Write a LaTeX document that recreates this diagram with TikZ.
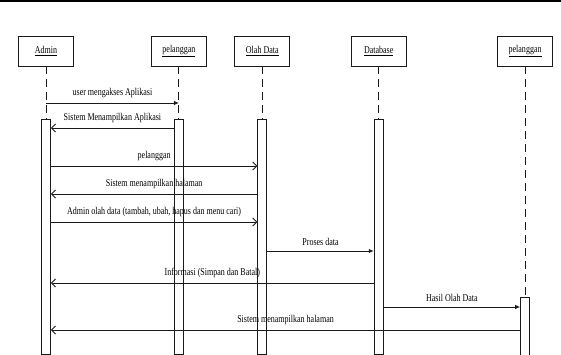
\documentclass[tikz,border=0pt]{standalone}
\usepackage{fontspec}
\setmainfont{Liberation Serif}
\newfontfamily\seqfont[FakeStretch=0.77]{Liberation Serif}
\usetikzlibrary{arrows.meta,positioning}
\definecolor{linegray}{HTML}{1A1A1A}
\tikzset{
  actor/.style={
    draw=linegray,
    fill=white,
    minimum width=55pt,
    minimum height=30pt,
    font=\seqfont\fontsize{10.4}{12}\selectfont,
    line width=0.9pt
  },
  activation/.style={
    draw=linegray,
    fill=white,
    minimum width=9pt,
    inner sep=0pt,
    line width=0.9pt
  },
  lifeline/.style={
    draw=linegray,
    dash pattern=on 8pt off 5pt,
    line width=0.9pt
  },
  call/.style={
    -{Latex[length=5pt,width=4.5pt]},
    draw=linegray,
    line width=0.9pt
  },
  reply/.style={
    -{Straight Barb[length=4pt,width=8pt]},
    draw=linegray,
    line width=0.9pt
  },
  msglabel/.style={
    midway,
    above=4pt,
    inner sep=1pt,
    font=\seqfont\fontsize{10.4}{12}\selectfont
  }
}
\begin{document}
\begin{tikzpicture}[x=1pt, y=-1pt]
  \useasboundingbox (0,0) rectangle (561,355);
  \draw[line width=2.5pt] (0,1.25) -- (561,1.25);

  \node[actor] (admin) at (46,51) {\underline{Admin}};
  \node[actor, right=77pt of admin] (pelA) {\underline{pelanggan}};
  \node[actor, right=27.5pt of pelA] (olah) {\underline{Olah Data}};
  \node[actor, right=60.5pt of olah] (db) {\underline{Database}};
  \node[actor, right=90.5pt of db] (pelB) {\underline{pelanggan}};

  \node[activation, below=53pt of admin, minimum height=235pt] (barA) {};
  \node[activation, below=53pt of pelA, minimum height=235pt] (barB) {};
  \node[activation, below=53pt of olah, minimum height=235pt] (barC) {};
  \node[activation, below=53pt of db, minimum height=235pt] (barD) {};
  \node[activation, below=231pt of pelB, minimum height=58pt] (barE) {};

  \draw[lifeline] (admin) -- (barA);
  \draw[lifeline] (pelA) -- (barB);
  \draw[lifeline] (olah) -- (barC);
  \draw[lifeline] (db) -- (barD);
  \draw[lifeline] (pelB) -- (barE);

  \coordinate (r1) at (0,103);
  \coordinate (r2) at (0,128);
  \coordinate (r3) at (0,166);
  \coordinate (r4) at (0,194);
  \coordinate (r5) at (0,222);
  \coordinate (r6) at (0,251);
  \coordinate (r7) at (0,283);
  \coordinate (r8) at (0,307);
  \coordinate (r9) at (0,330);

  \draw[call] (admin |- r1) -- node[msglabel] {user mengakses Aplikasi} (pelA |- r1);
  \draw[reply] (barB.west |- r2) -- node[msglabel] {Sistem Menampilkan Aplikasi} (barA.east |- r2);
  \draw[reply] (barA.east |- r3) -- node[msglabel] {pelanggan} (barC.west |- r3);
  \draw[reply] (barC.west |- r4) -- node[msglabel] {Sistem menampilkan halaman} (barA.east |- r4);
  \draw[reply] (barA.east |- r5) -- node[msglabel] {Admin olah data (tambah, ubah, hapus dan menu cari)} (barC.west |- r5);
  \draw[call] (barC.east |- r6) -- node[msglabel] {Proses data} (barD.west |- r6);
  \draw[reply] (barD.west |- r7) -- node[msglabel] {Informasi (Simpan dan Batal)} (barA.east |- r7);
  \draw[call] (barD.east |- r8) -- node[msglabel] {Hasil Olah Data} (barE.west |- r8);
  \draw[reply] (barE.west |- r9) -- node[msglabel] {Sistem menampilkan halaman} (barA.east |- r9);
\end{tikzpicture}
\end{document}
